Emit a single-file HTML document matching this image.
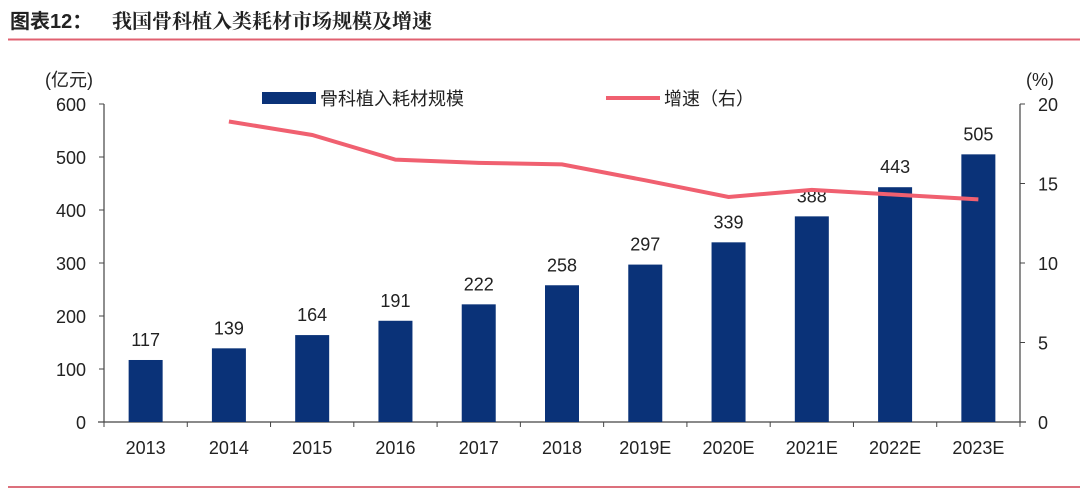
<!DOCTYPE html>
<html><head><meta charset="utf-8"><style>
body{margin:0;background:#fff;width:1080px;height:494px;overflow:hidden;font-family:"Liberation Sans","Noto Sans CJK SC",sans-serif}
</style></head><body>
<svg width="1080" height="494" xmlns="http://www.w3.org/2000/svg">
<text x="10" y="28" font-size="20" font-weight="bold" fill="#222" font-family="Liberation Sans,Noto Sans CJK SC,sans-serif">图表12：</text>
<text x="112" y="28" font-size="20" font-weight="bold" fill="#222" font-family="Noto Serif CJK SC,Noto Sans CJK SC,sans-serif">我国骨科植入类耗材市场规模及增速</text>
<line x1="8" y1="39.5" x2="1080" y2="39.5" stroke="#e06070" stroke-width="2"/>
<line x1="8" y1="487" x2="1080" y2="487" stroke="#d04050" stroke-width="1.5"/>
<text x="45" y="86" font-size="18" fill="#222">(亿元)</text>
<text x="1026" y="86" font-size="18" fill="#222">(%)</text>
<rect x="262" y="92" width="54" height="12" fill="#0a3278"/>
<text x="320" y="105" font-size="18" fill="#222">骨科植入耗材规模</text>
<line x1="606" y1="98" x2="660" y2="98" stroke="#f06070" stroke-width="4"/>
<text x="664" y="105" font-size="18" fill="#222">增速（右）</text>
<g id="g"></g>
</svg>
<script>
const categories=["2013","2014","2015","2016","2017","2018","2019E","2020E","2021E","2022E","2023E"];
const sizeValues=[117,139,164,191,222,258,297,339,388,443,505];
const growthValues=[null,18.9,18.05,16.5,16.3,16.2,15.2,14.15,14.6,14.3,14.0];
const leftTicks=[0,100,200,300,400,500,600];
const rightTicks=[0,5,10,15,20];
const NS="http://www.w3.org/2000/svg";
const g=document.getElementById('g');
const X0=104,X1=1020,Y0=422,Y1=104;
const bw=(X1-X0)/categories.length;
const xc=i=>X0+bw*(i+0.5);
const yL=v=>Y0-(v/600)*(Y0-Y1);
const yR=v=>Y0-(v/20)*(Y0-Y1);
function mk(t,a){const e=document.createElementNS(NS,t);for(const k in a)e.setAttribute(k,a[k]);g.appendChild(e);return e;}
let e;
e=mk('line',{x1:X0,y1:Y1,x2:X0,y2:Y0,stroke:'#444','stroke-width':1.2});


e=mk('line',{x1:X1,y1:Y1,x2:X1,y2:Y0,stroke:'#444','stroke-width':1.2});


e=mk('line',{x1:X0-6,y1:Y0,x2:X1+6,y2:Y0,stroke:'#444','stroke-width':1.2});


leftTicks.forEach(v=>{
 mk('line',{x1:X0-5,y1:yL(v),x2:X0,y2:yL(v),stroke:'#444'});
 e=mk('text',{x:86,y:yL(v)+7,'font-size':18,'text-anchor':'end',fill:'#222'});e.textContent=v;
 
 
});
rightTicks.forEach(v=>{
 mk('line',{x1:X1,y1:yR(v),x2:X1+5,y2:yR(v),stroke:'#444'});
 e=mk('text',{x:1038,y:yR(v)+7,'font-size':18,fill:'#222'});e.textContent=v;
 
 
});
for(let i=0;i<=categories.length;i++)mk('line',{x1:X0+bw*i,y1:Y0,x2:X0+bw*i,y2:Y0+5,stroke:'#444'});
categories.forEach((c,i)=>{
 e=mk('rect',{x:xc(i)-17,y:yL(sizeValues[i]),width:34,height:Y0-yL(sizeValues[i]),fill:'#0a3278'});
 
 
 e=mk('text',{x:xc(i),y:yL(sizeValues[i])-14,'font-size':18,'text-anchor':'middle',fill:'#222'});e.textContent=sizeValues[i];
 
 
 e=mk('text',{x:xc(i),y:454,'font-size':18,'text-anchor':'middle',fill:'#222'});e.textContent=c;
 
 
});
const pts=[];growthValues.forEach((v,i)=>{if(v!=null)pts.push(xc(i)+','+yR(v));});
e=mk('polyline',{points:pts.join(' '),fill:'none',stroke:'#f06070','stroke-width':4});


</script>
</body></html>
